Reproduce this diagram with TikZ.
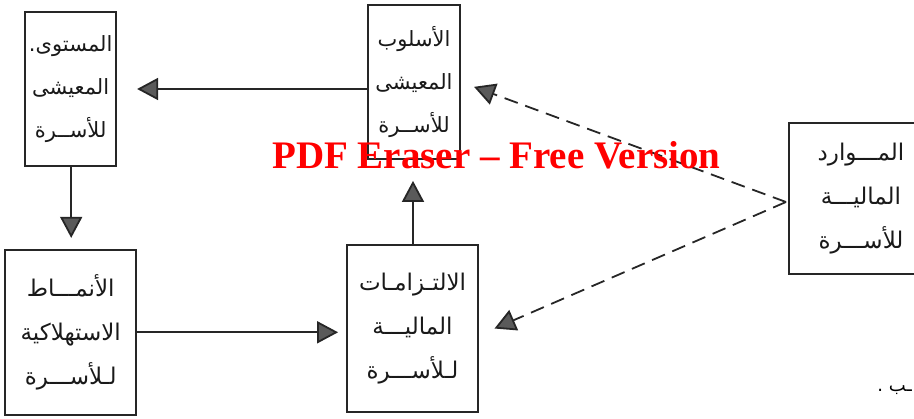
\documentclass[tikz,border=0pt]{standalone}
\usepackage{fontspec}
\usetikzlibrary{positioning, arrows.meta}
\newfontfamily\arfont[Script=Arabic]{DejaVu Sans}
\newfontfamily\wmfont{Liberation Serif}
\TeXXeTstate=1
\newcommand{\rl}[1]{\beginR#1\endR}
\definecolor{tipgray}{HTML}{5A5A5A}
\tikzset{
	box/.style={draw=black!85, line width=1.8pt, align=center, inner sep=0pt,
		text=black!90, font=\arfont\fontsize{23}{44}\selectfont},
	narrow/.style={font=\arfont\fontsize{21}{43}\selectfont},
	flow/.style={-{Triangle[length=21pt, width=22pt, fill=tipgray]}, line width=1.8pt, draw=black!85},
	feed/.style={flow, dash pattern=on 14pt off 8pt},
	baseline}

\begin{document}
\begin{tikzpicture}[x=1pt, y=-1pt]
		\useasboundingbox (0,0) rectangle (914,419);
		
		%top row
		\node[box, narrow, minimum width=92pt, minimum height=154pt] (lifestyle) at (414,82)
			{\rl{الأسلوب}\\ \rl{المعيشى}\\ \rl{للأســرة}};
		\node[box, narrow, minimum width=91pt, minimum height=154pt, left=250pt of lifestyle, yshift=-7pt] (level)
			{\rl{المستوى.}\\ \rl{المعيشى}\\ \rl{للأســرة}};
		\node[box, minimum width=144pt, minimum height=151pt] (resources) at (861,198.5)
			{\rl{المـــوارد}\\ \rl{الماليـــة}\\ \rl{للأســـرة}};
		
		%bottom row
		\node[box, minimum width=131pt, minimum height=165pt, below=82pt of level] (patterns)
			{\rl{الأنمـــاط}\\ \rl{الاستهلاكية}\\ \rl{لـلأســـرة}};
		\node[box, minimum width=131pt, minimum height=167pt, right=209pt of patterns, yshift=4pt] (obligations)
			{\rl{الالتـزامـات}\\ \rl{الماليـــة}\\ \rl{لـلأســـرة}};
		
		\node[anchor=base east, inner sep=1pt, font=\arfont\fontsize{18}{20}\selectfont] (tail) at (913,392) {\rl{ـب .}};
		
		\coordinate (fork) at (786,202);
		
		\draw[flow, shorten >=20pt] (lifestyle.west |- level.east) -- (level.east);
		\draw[flow, shorten >=11pt] ([xshift=0.5pt]level.south) -- ([xshift=0.5pt]level.south |- patterns.north);
		\draw[flow, shorten >=8pt] (patterns.east) -- (patterns.east -| obligations.west);
		\draw[flow, shorten >=21pt] ([xshift=0.5pt]obligations.north) -- ([xshift=0.5pt]obligations.north |- lifestyle.south);
		\draw[feed, shorten >=14pt] (fork) -- (lifestyle.east);
		\draw[feed, shorten >=17pt] (fork) -- ([yshift=-7pt]obligations.east);
		
		%overlay
		\node[anchor=base west, inner sep=0pt, text=red, font=\wmfont\bfseries\fontsize{39}{39}\selectfont] (mark) at (272,169)
			{PDF Eraser – Free Version};
	\end{tikzpicture}
\end{document}
